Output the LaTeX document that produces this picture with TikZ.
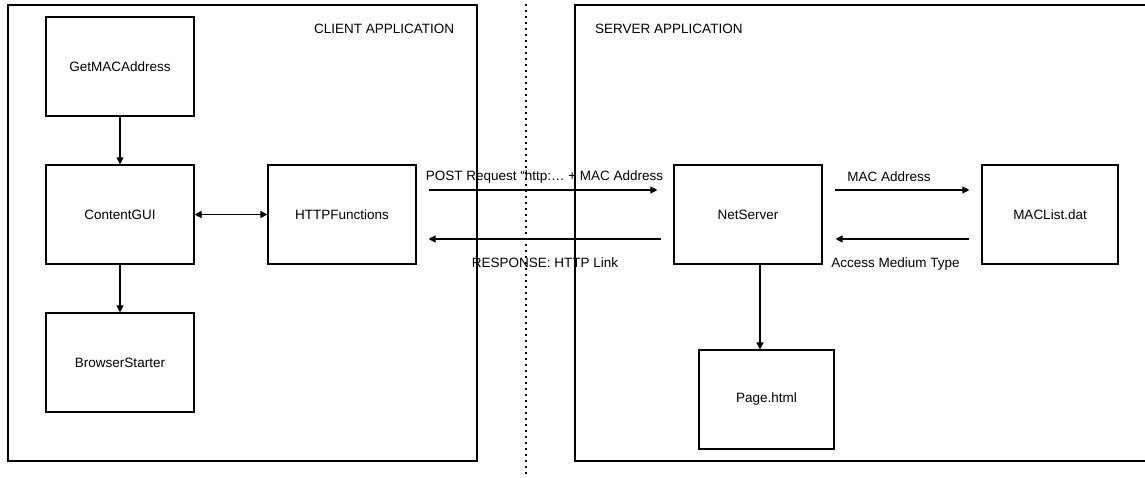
\documentclass[tikz,border=0pt]{standalone}
\usepackage{fontspec}
\setmainfont{Liberation Sans}
\usetikzlibrary{arrows.meta,calc}

\tikzset{
  frame/.style={draw=black, line width=1.2pt},
  module/.style={draw=black, line width=1.1pt, minimum width=148pt, minimum height=99pt,
    inner sep=0pt, font=\fontsize{13.5}{16}\selectfont},
  tag/.style={inner sep=0pt, font=\fontsize{13.5}{16}\selectfont},
  arr/.style={line width=1.1pt, -{Triangle[length=7pt,width=7pt]}},
  biarr/.style={line width=1.1pt, {Triangle[length=7pt,width=7pt]}-{Triangle[length=7pt,width=7pt]}},
  divider/.style={line width=1.8pt, dash pattern=on 1.8pt off 4.2pt}
}

\begin{document}
\begin{tikzpicture}[x=1pt, y=-1pt]
  \useasboundingbox (0,0) rectangle (1145,478);
  \clip (0,0) rectangle (1145,478);

  % application frames and the dotted divider between them
  \draw[frame] (8,5) rectangle (477,461);
  \draw[frame] (575,5) rectangle (1152,461);
  \coordinate (divtop) at (526,4);
  \coordinate (divbot) at (526,478);
  \draw[divider] (divtop) -- (divbot);

  \node[tag, anchor=west] (clientlbl) at (314,29) {CLIENT APPLICATION};
  \node[tag, anchor=west] (serverlbl) at (595,29) {SERVER APPLICATION};

  % client modules
  \node[module] (getmac)  at (120,66.5)  {GetMACAddress};
  \node[module] (content) at (120,214.5) {ContentGUI};
  \node[module] (browser) at (120,362.5) {BrowserStarter};
  \node[module] (http)    at (342,214.5) {HTTPFunctions};

  % server modules
  \node[module] (net)     at (748,214.5) {NetServer};
  \node[module, minimum width=136pt] (maclist) at (1050,214.5) {MACList.dat};
  \node[module, minimum width=135pt] (page)    at (766.5,399.5) {Page.html};

  % client connectors
  \draw[arr] (getmac.south) -- (content.north);
  \draw[arr] (content.south) -- (browser.north);
  \draw[biarr] (content.east) -- (http.west);

  % client/server exchange
  \draw[arr] ([xshift=12pt,yshift=24.5pt]http.east) -- ([xshift=-16pt,yshift=24.5pt]net.west);
  \draw[arr] ([xshift=-12pt,yshift=-24.5pt]net.west) -- ([xshift=12pt,yshift=-24.5pt]http.east);
  \node[tag] (postlbl) at (544.5,177) {POST Request “http:… + MAC Address};
  \node[tag] (resplbl) at (545,263) {RESPONSE: HTTP Link};

  % server connectors
  \draw[arr] ([xshift=12pt,yshift=24.5pt]net.east) -- ([xshift=-12pt,yshift=24.5pt]maclist.west);
  \draw[arr] ([xshift=-12pt,yshift=-24.5pt]maclist.west) -- ([xshift=13pt,yshift=-24.5pt]net.east);
  \node[tag] (maclbl) at (889,177) {MAC Address};
  \node[tag] (acclbl) at (895.5,264) {Access Medium Type};

  \draw[arr] ([xshift=12pt]net.south) -- ([xshift=12pt]net.south |- page.north);
\end{tikzpicture}
\end{document}
